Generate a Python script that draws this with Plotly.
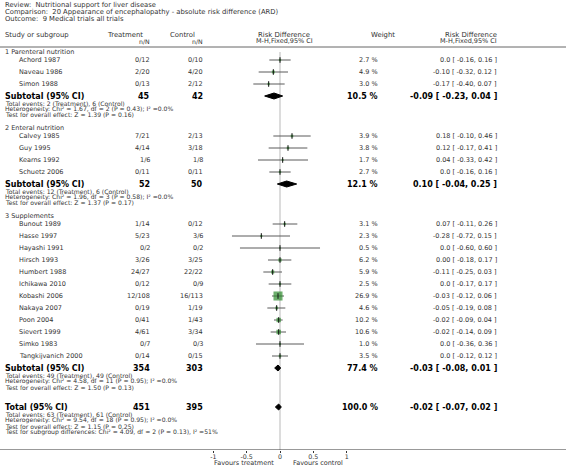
import math
import plotly.graph_objects as go

# ---------------- data ----------------
group_names = ["1 Parenteral nutrition", "2 Enteral nutrition", "3 Supplements"]

study_names = ["Achord 1987", "Naveau 1986", "Simon 1988",
               "Calvey 1985", "Guy 1995", "Kearns 1992", "Schuetz 2006",
               "Bunout 1989", "Hasse 1997", "Hayashi 1991", "Hirsch 1993", "Humbert 1988",
               "Ichikawa 2010", "Kobashi 2006", "Nakaya 2007", "Poon 2004", "Sievert 1999",
               "Simko 1983", "Tangkijvanich 2000"]
study_group = [0, 0, 0, 1, 1, 1, 1, 2, 2, 2, 2, 2, 2, 2, 2, 2, 2, 2, 2]
treat_events = [0, 2, 0, 7, 4, 1, 0, 1, 5, 0, 3, 24, 0, 12, 0, 0, 4, 0, 0]
treat_total = [12, 20, 13, 21, 14, 6, 11, 14, 23, 2, 26, 27, 12, 108, 19, 41, 61, 7, 14]
ctrl_events = [0, 4, 2, 2, 3, 1, 0, 0, 3, 0, 3, 22, 0, 16, 1, 1, 3, 0, 0]
ctrl_total = [10, 20, 12, 13, 18, 8, 11, 12, 6, 2, 25, 22, 9, 113, 19, 43, 34, 3, 15]
weights = [2.7, 4.9, 3.0, 3.9, 3.8, 1.7, 2.7, 3.1, 2.3, 0.5, 6.2, 5.9, 2.5, 26.9, 4.6, 10.2, 10.6, 1.0, 3.5]
rd = [0.0, -0.10, -0.17, 0.18, 0.12, 0.04, 0.0, 0.07, -0.28, 0.0, 0.00, -0.11, 0.0, -0.03, -0.05, -0.02, -0.02, 0.0, 0.0]
ci_lo = [-0.16, -0.32, -0.40, -0.10, -0.17, -0.33, -0.16, -0.11, -0.72, -0.60, -0.18, -0.25, -0.17, -0.12, -0.19, -0.09, -0.14, -0.36, -0.12]
ci_hi = [0.16, 0.12, 0.07, 0.46, 0.41, 0.42, 0.16, 0.26, 0.15, 0.60, 0.17, 0.03, 0.17, 0.06, 0.08, 0.04, 0.09, 0.36, 0.12]

sub_treat_total = [45, 52, 354]
sub_ctrl_total = [42, 50, 303]
sub_weight = [10.5, 12.1, 77.4]
sub_rd = [-0.09, 0.10, -0.03]
sub_lo = [-0.23, -0.04, -0.08]
sub_hi = [0.04, 0.25, 0.01]
sub_notes = [
    ["Total events: 2 (Treatment), 6 (Control)",
     "Heterogeneity: Chi² = 1.67, df = 2 (P = 0.43); I² =0.0%",
     "Test for overall effect: Z = 1.39 (P = 0.16)"],
    ["Total events: 12 (Treatment), 6 (Control)",
     "Heterogeneity: Chi² = 1.96, df = 3 (P = 0.58); I² =0.0%",
     "Test for overall effect: Z = 1.37 (P = 0.17)"],
    ["Total events: 49 (Treatment), 49 (Control)",
     "Heterogeneity: Chi² = 4.58, df = 11 (P = 0.95); I² =0.0%",
     "Test for overall effect: Z = 1.50 (P = 0.13)"],
]

total_treat = 451
total_ctrl = 395
total_weight = 100.0
total_rd = -0.02
total_lo = -0.07
total_hi = 0.02
total_notes = ["Total events: 63 (Treatment), 61 (Control)",
               "Heterogeneity: Chi² = 9.54, df = 18 (P = 0.95); I² =0.0%",
               "Test for overall effect: Z = 1.15 (P = 0.25)",
               "Test for subgroup differences: Chi² = 4.09, df = 2 (P = 0.13), I² =51%"]

x_ticks = [-1, -0.5, 0, 0.5, 1]
x_tick_labels = ["-1", "-0.5", "0", "0.5", "1"]

title_lines = ["Review:  Nutritional support for liver disease",
               "Comparison:  20 Appearance of encephalopathy - absolute risk difference (ARD)",
               "Outcome:  9 Medical trials all trials"]

# ---------------- layout constants ----------------
W, H = 566, 467
ZERO_PX = 280.0
PX_PER_UNIT = 66.7
AXIS_Y = 450
FONT = "DejaVu Sans"
TXT = "#333333"

COL_TREAT = 152
COL_CTRL = 205
COL_WEIGHT = 380
COL_RD = 499


def fmt_rd(v, lo, hi):
    if v == 0 and abs(lo + hi) < 1e-9:
        return "0.0"
    return f"{v:.2f}"


def ci_text(v, lo, hi):
    return f"{fmt_rd(v, lo, hi)} [ {lo:.2f}, {hi:.2f} ]"


annotations = []


def txt(xpx, ypx, s, anchor="left", size=6.5, bold=False, color=TXT):
    annotations.append(dict(
        x=xpx / W, xref="paper", y=1 - ypx / H, yref="paper",
        text=f"<b>{s}</b>" if bold else s, showarrow=False,
        xanchor=anchor, yanchor="middle",
        font=dict(family=FONT, size=size, color=color)))


# headers
for i, line in enumerate(title_lines):
    txt(3, 5 + 7 * i, line, size=6.8)
txt(3, 35, "Study or subgroup", size=6.9)
txt(145, 35, "Treatment", anchor="right", size=6.9)
txt(COL_TREAT, 41, "n/N", anchor="right", size=6.2)
txt(197, 35, "Control", anchor="right", size=6.9)
txt(COL_CTRL, 41, "n/N", anchor="right", size=6.2)
txt(ZERO_PX + 4, 35, "Risk Difference", anchor="center", size=6.9)
txt(ZERO_PX + 4, 41, "M-H,Fixed,95% CI", anchor="center", size=6.5)
txt(383, 35, "Weight", anchor="center", size=6.9)
txt(COL_RD, 35, "Risk Difference", anchor="right", size=6.9)
txt(COL_RD, 41, "M-H,Fixed,95% CI", anchor="right", size=6.5)

# compute row positions (pixel rows, top = 0)
study_y = [0] * len(study_names)
sub_y = []
y = 52
for g, gname in enumerate(group_names):
    txt(3, y, gname)
    y += 8
    for i, sg in enumerate(study_group):
        if sg == g:
            study_y[i] = y
            y += 12
    sub_y.append(y)
    note_y = [y + 7, y + 13, y + 19]
    for ny, note in zip(note_y, sub_notes[g]):
        txt(3, ny, note, size=6.1)
    y = note_y[-1] + 13
total_y = y - 13 + 20

# study rows text
for i, name in enumerate(study_names):
    yy = study_y[i]
    txt(17, yy, name)
    txt(COL_TREAT, yy, f"{treat_events[i]}/{treat_total[i]}", anchor="right")
    txt(COL_CTRL, yy, f"{ctrl_events[i]}/{ctrl_total[i]}", anchor="right")
    txt(COL_WEIGHT, yy, f"{weights[i]:.1f} %", anchor="right")
    txt(COL_RD, yy, ci_text(rd[i], ci_lo[i], ci_hi[i]), anchor="right")

# subtotals
for g in range(len(group_names)):
    yy = sub_y[g]
    txt(3, yy, "Subtotal (95% CI)", bold=True, size=8, color="#000")
    txt(COL_TREAT, yy, str(sub_treat_total[g]), anchor="right", bold=True, size=8, color="#000")
    txt(COL_CTRL, yy, str(sub_ctrl_total[g]), anchor="right", bold=True, size=8, color="#000")
    txt(COL_WEIGHT, yy, f"{sub_weight[g]:.1f} %", anchor="right", bold=True, size=8, color="#000")
    txt(COL_RD, yy, ci_text(sub_rd[g], sub_lo[g], sub_hi[g]), anchor="right", bold=True, size=8, color="#000")

# total
txt(3, total_y, "Total (95% CI)", bold=True, size=8, color="#000")
txt(COL_TREAT, total_y, str(total_treat), anchor="right", bold=True, size=8, color="#000")
txt(COL_CTRL, total_y, str(total_ctrl), anchor="right", bold=True, size=8, color="#000")
txt(COL_WEIGHT, total_y, f"{total_weight:.1f} %", anchor="right", bold=True, size=8, color="#000")
txt(COL_RD, total_y, ci_text(total_rd, total_lo, total_hi), anchor="right", bold=True, size=8, color="#000")
for k, note in enumerate(total_notes):
    txt(3, total_y + 7 + 6 * k, note, size=6.1)

# favours labels
txt(ZERO_PX - 0.5 * PX_PER_UNIT - 3, 462.5, "Favours treatment", anchor="center", size=6.5)
txt(ZERO_PX + 0.5 * PX_PER_UNIT + 5, 462.5, "Favours control", anchor="center", size=6.5)

# ---------------- traces ----------------
fig = go.Figure()

# CI lines
lx, ly = [], []
for i in range(len(study_names)):
    lx += [ci_lo[i], ci_hi[i], None]
    ly += [study_y[i], study_y[i], None]
fig.add_trace(go.Scatter(x=lx, y=ly, mode="lines", line=dict(color="#5a5a5a", width=1),
                         hoverinfo="skip", showlegend=False, cliponaxis=False))

# weight squares
fig.add_trace(go.Scatter(x=rd, y=study_y, mode="markers",
                         marker=dict(symbol="square", color="#2e8b2e",
                                     size=[0.28 * w + 1.5 for w in weights],
                                     line=dict(width=0)),
                         hoverinfo="skip", showlegend=False, cliponaxis=False))
# point estimate ticks
fig.add_trace(go.Scatter(x=rd, y=study_y, mode="markers",
                         marker=dict(symbol="line-ns", size=4,
                                     line=dict(color="#111111", width=1)),
                         hoverinfo="skip", showlegend=False, cliponaxis=False))

# diamonds
dx, dy = [], []
for est, lo, hi, yy in list(zip(sub_rd, sub_lo, sub_hi, sub_y)) + [(total_rd, total_lo, total_hi, total_y)]:
    dx += [lo, est, hi, est, lo, None]
    dy += [yy, yy - 3, yy, yy + 3, yy, None]
fig.add_trace(go.Scatter(x=dx, y=dy, mode="lines", fill="toself", fillcolor="#000000",
                         line=dict(color="#000000", width=1), hoverinfo="skip", showlegend=False))

shapes = [
    dict(type="line", xref="x", yref="y", x0=0, x1=0, y0=52, y1=AXIS_Y,
         line=dict(color="#dcdcdc", width=2), layer="below"),
    dict(type="line", xref="paper", yref="y", x0=0, x1=1, y0=47, y1=47,
         line=dict(color="#666666", width=1)),
    dict(type="line", xref="paper", yref="y", x0=0, x1=1, y0=AXIS_Y, y1=AXIS_Y,
         line=dict(color="#333333", width=1)),
]

fig.update_layout(
    template="none",
    width=W, height=H,
    margin=dict(l=0, r=0, t=0, b=0, pad=0, autoexpand=False),
    paper_bgcolor="white", plot_bgcolor="white",
    showlegend=False,
    annotations=annotations,
    shapes=shapes,
    xaxis=dict(domain=[0, 1], range=[-ZERO_PX / PX_PER_UNIT, (W - ZERO_PX) / PX_PER_UNIT],
               automargin=False,
               showgrid=False, zeroline=False, showline=False,
               ticks="outside", ticklen=2, tickcolor="#333333",
               ticklabelstandoff=-2,
               tickvals=x_ticks, ticktext=x_tick_labels,
               tickfont=dict(family=FONT, size=6.3, color="#333333"), fixedrange=True),
    yaxis=dict(domain=[(H - AXIS_Y) / H, 1], range=[AXIS_Y, 0], visible=False,
               automargin=False, fixedrange=True),
)

fig.write_html("out.html", config={"displayModeBar": False},
               post_script="document.body.style.margin='0';document.body.style.overflow='hidden';")
